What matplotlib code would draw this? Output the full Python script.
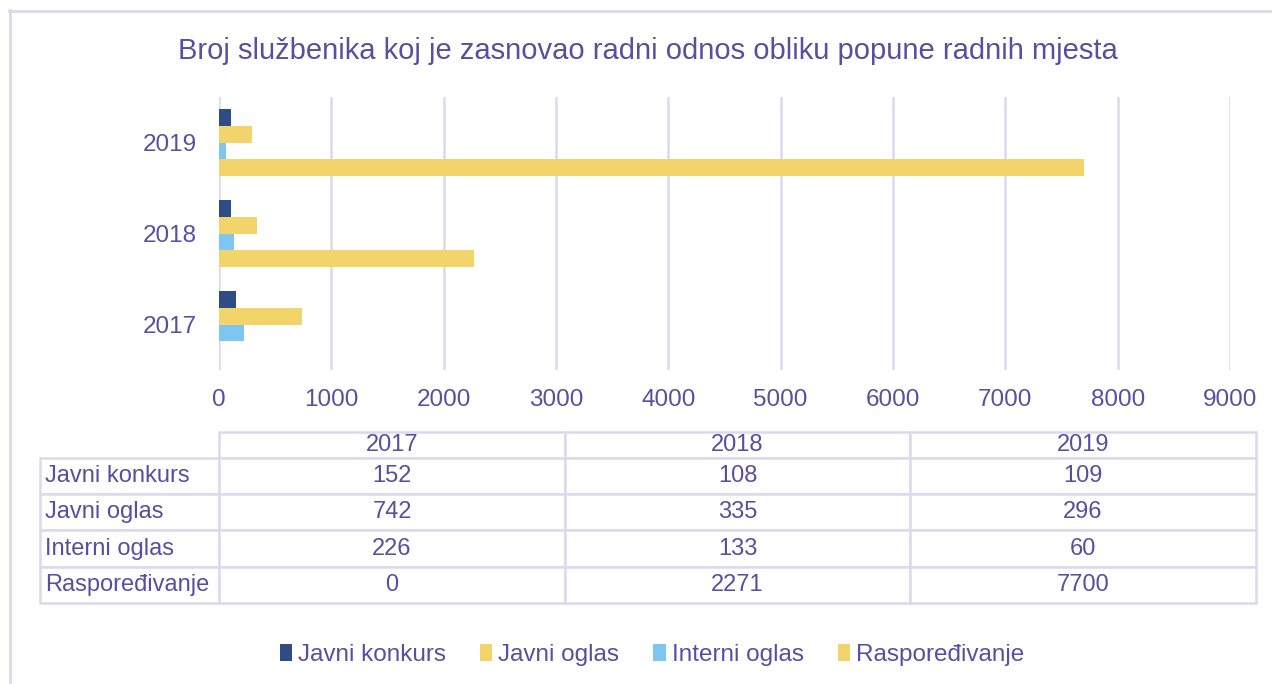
import numpy as np
import matplotlib
matplotlib.use("Agg")
import matplotlib.pyplot as plt
from matplotlib.lines import Line2D

# ============================================================
# DATOS
# ============================================================

godine = ["2017", "2018", "2019"]
serije = ["Javni konkurs", "Javni oglas", "Interni oglas", "Raspoređivanje"]
javni_konkurs = [152, 108, 109]
javni_oglas = [742, 335, 296]
interni_oglas = [226, 133, 60]
rasporedjivanje = [0, 2271, 7700]
x_ticks = [0, 1000, 2000, 3000, 4000, 5000, 6000, 7000, 8000, 9000]

naslov = "Broj službenika koj je zasnovao radni odnos obliku popune radnih mjesta"

# ============================================================
# STIL
# ============================================================

TEXT = "#5a4ea0"
GRID = "#dcd9ec"
boje = ["#2e4d87", "#f3d46b", "#7dc6f2", "#f3d46b"]

plt.rcParams["font.family"] = ["Liberation Sans", "DejaVu Sans"]

W, H = 1272, 684
fig = plt.figure(figsize=(W / 100, H / 100), dpi=100)

# okvir grafikona
fig.add_artist(Line2D([9.5 / W, 9.5 / W], [0, 1 - 10 / H], color=GRID, lw=2, transform=fig.transFigure))
fig.add_artist(Line2D([9 / W, 1], [1 - 10.5 / H, 1 - 10.5 / H], color=GRID, lw=2, transform=fig.transFigure))

fig.text(648 / W, 1 - 51 / H, naslov, ha="center", va="center", fontsize=21, color=TEXT)

# ============================================================
# GRAFIKON
# ============================================================

ax = fig.add_axes([219 / W, 1 - 370 / H, (1230 - 219) / W, (370 - 97) / H])
y = np.arange(len(godine))
h = 0.182
vrijednosti = [javni_konkurs, javni_oglas, interni_oglas, rasporedjivanje]
bars = []
for i, (ime, vals) in enumerate(zip(serije, vrijednosti)):
    off = (1.5 - i) * h
    b = ax.barh(y + off, vals, height=h, color=boje[i], label=ime, zorder=3)
    bars.append(b)

ax.set_xlim(0, 9000)
ax.set_ylim(-0.5, 2.5)
ax.set_xticks(x_ticks)
ax.set_yticks(y)
ax.set_yticklabels(godine)
ax.tick_params(axis="x", length=0, pad=14, labelsize=17.5, colors=TEXT)
ax.tick_params(axis="y", length=0, pad=16, labelsize=17.5, colors=TEXT)
ax.grid(axis="x", color=GRID, lw=1.8, zorder=0)
for s in ax.spines.values():
    s.set_visible(False)

# ============================================================
# TABLICA
# ============================================================

tax = fig.add_axes([40 / W, 1 - 603 / H, (1256 - 40) / W, (603 - 432) / H])
tax.axis("off")

cell_text = [[""] + godine]
for ime, vals in zip(serije, vrijednosti):
    cell_text.append([ime] + [str(v) for v in vals])

col_w = [179, 346, 345, 346]
tab = tax.table(cellText=cell_text, colWidths=[c / sum(col_w) for c in col_w],
                bbox=[0, 0, 1, 1], cellLoc="center")
tab.auto_set_font_size(False)
tab.set_fontsize(17)
for (r, c), cell in tab.get_celld().items():
    cell.set_edgecolor(GRID)
    cell.set_linewidth(1.8)
    cell.get_text().set_color(TEXT)
    cell.set_height(26 if r == 0 else 36.5)
    if c == 0:
        cell.PAD = 0.03
        cell.get_text().set_ha("left")
        cell._loc = "left"
    if r == 0 and c == 0:
        cell.visible_edges = ""

# ============================================================
# LEGENDA
# ============================================================

fig.legend(handles=bars, labels=serije, loc="center", ncol=4,
           bbox_to_anchor=(652 / W, 1 - 655 / H), frameon=False,
           fontsize=17.5, labelcolor=TEXT, handlelength=0.5, handleheight=0.7,
           handletextpad=0.25, columnspacing=1.4)

fig.savefig("out.png", dpi=100)
